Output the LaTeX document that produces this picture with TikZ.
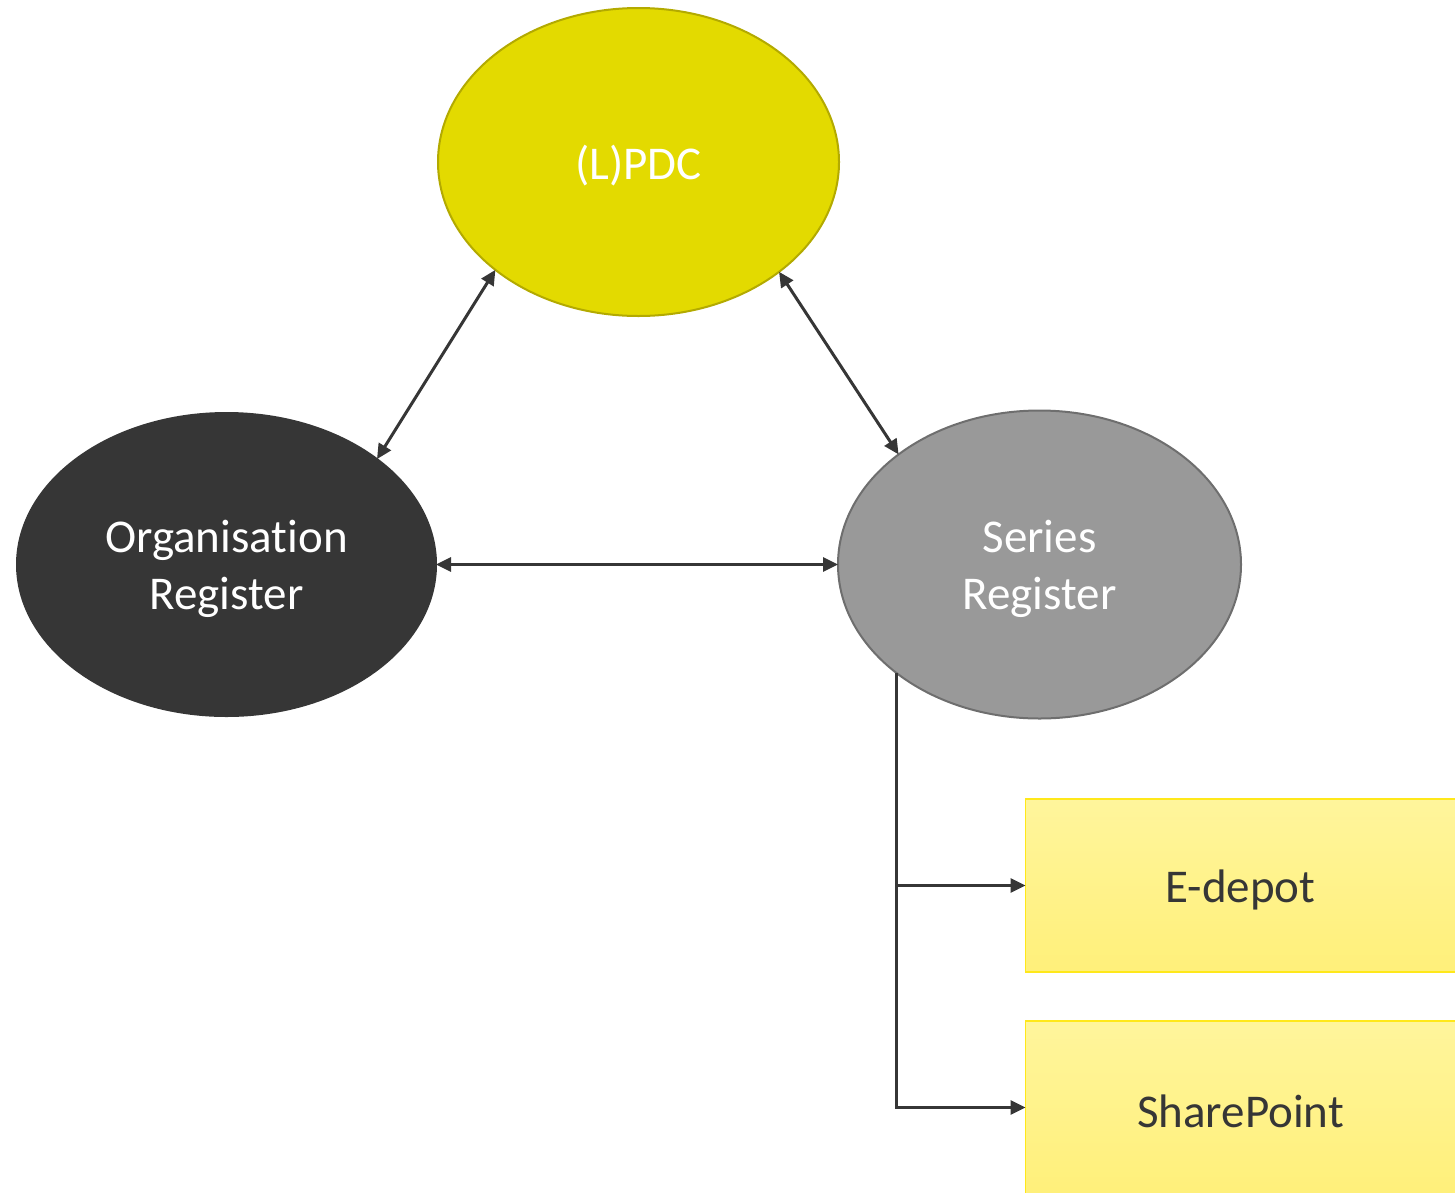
\documentclass[tikz,border=0pt]{standalone}
\usepackage{fontspec}
\setmainfont[Ligatures=NoCommon]{Carlito}
\usetikzlibrary{shapes.geometric,arrows.meta}
\definecolor{dark}{HTML}{363636}
\definecolor{lpdcfill}{HTML}{E3DA00}
\definecolor{lpdcline}{HTML}{B3AA00}
\definecolor{serfill}{HTML}{999999}
\definecolor{serline}{HTML}{6E6E6E}
\definecolor{boxtop}{HTML}{FFF59C}
\definecolor{boxbot}{HTML}{FFF07A}
\definecolor{boxline}{HTML}{FFE81A}
\tikzset{
  ell/.style={ellipse, inner sep=0pt, outer sep=0pt, line width=2pt},
  txt/.style={label distance=0pt, align=center, yshift=-4pt, inner sep=0pt,
    font=\fontsize{47}{57}\selectfont},
  sysbox/.style={rectangle, inner sep=0pt, outer sep=0pt, line width=1.5pt, draw=boxline,
    top color=boxtop, bottom color=boxbot, minimum width=430pt, minimum height=173pt},
  conn/.style={draw=dark, line width=3pt},
  tip/.style={{Triangle[length=15pt,width=14pt]}-{Triangle[length=15pt,width=14pt]}},
  onetip/.style={-{Triangle[length=15pt,width=14pt]}}
}
\begin{document}
\begin{tikzpicture}[x=1pt,y=-1pt]
\useasboundingbox (0,0) rectangle (1455,1192);
\clip (0,0) rectangle (1455,1192);
\node[ell, fill=lpdcfill, draw=lpdcline, minimum width=401pt, minimum height=308pt,
  label={[txt, text=white]center:(L)PDC}] (lp) at (638.5,162) {};
\node[ell, fill=dark, draw=dark, minimum width=419pt, minimum height=303pt,
  label={[txt, text=white]center:Organisation\\Register}] (org) at (226.5,564.5) {};
\node[ell, fill=serfill, draw=serline, minimum width=403pt, minimum height=308pt,
  label={[txt, text=white]center:Series\\Register}] (ser) at (1039.5,564.5) {};
\node[sysbox, label={[txt, text=dark]center:E-depot}] (ed) at (1240.5,885.5) {};
\node[sysbox, label={[txt, text=dark]center:SharePoint}] (sp) at (1240.5,1107.5) {};
\draw[conn, tip] (lp.217.6) -- (org.35.8);
\draw[conn, tip] (lp.322.4) -- (ser.142.6);
\draw[conn, tip] (org.east) -- (ser.west);
\draw[conn, onetip] (ser.217.8) |- (sp.west);
\draw[conn, onetip] (ser.217.8 |- ed.west) -- (ed.west);
\end{tikzpicture}
\end{document}
